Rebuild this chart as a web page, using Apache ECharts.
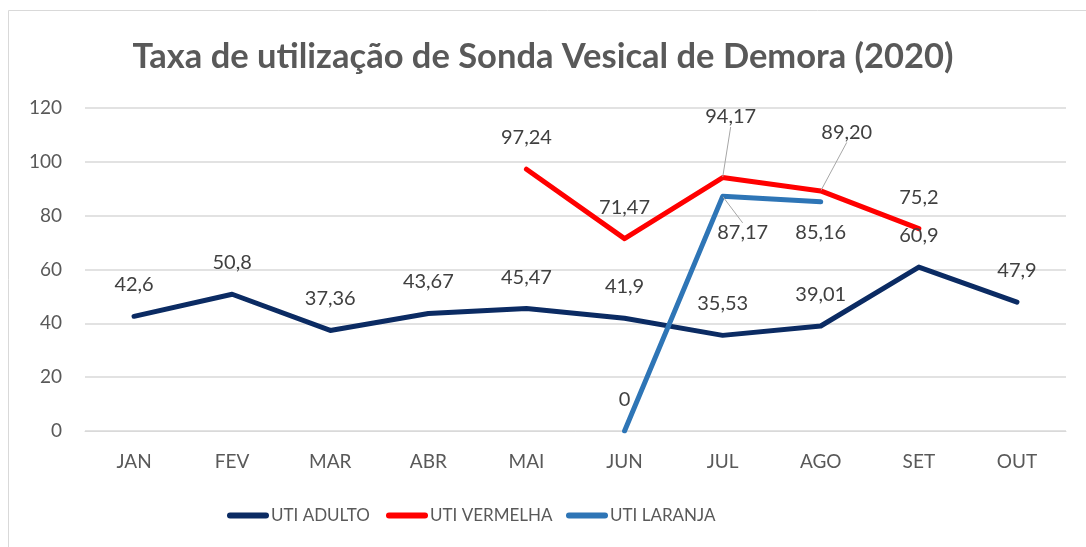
<!DOCTYPE html>
<html>
<head>
<meta charset="utf-8">
<script src="https://cdn.jsdelivr.net/npm/echarts@6/dist/echarts.min.js"></script>
<style>
  html, body { margin: 0; padding: 0; background: #fff; }
  #chart { width: 1086px; height: 547px; }
</style>
</head>
<body>
<div id="chart"></div>
<script>
const months = ['JAN', 'FEV', 'MAR', 'ABR', 'MAI', 'JUN', 'JUL', 'AGO', 'SET', 'OUT'];
const yTicks = [0, 20, 40, 60, 80, 100, 120];
const seriesNames = ['UTI ADULTO', 'UTI VERMELHA', 'UTI LARANJA'];

const utiAdulto = [42.6, 50.8, 37.36, 43.67, 45.47, 41.9, 35.53, 39.01, 60.9, 47.9];
const utiAdultoLabels = ['42,6', '50,8', '37,36', '43,67', '45,47', '41,9', '35,53', '39,01', '60,9', '47,9'];

const utiVermelha = [null, null, null, null, 97.24, 71.47, 94.17, 89.2, 75.2, null];
const utiVermelhaLabels = ['', '', '', '', '97,24', '71,47', '94,17', '89,20', '75,2', ''];

const utiLaranja = [null, null, null, null, null, 0, 87.17, 85.16, null, null];
const utiLaranjaLabels = ['', '', '', '', '', '0', '87,17', '85,16', '', ''];

// label nudges: series index -> data index -> [dx, dy, leader line?]
const labelMoves = {
  1: { 6: [8, -29, true], 7: [26, -27, true] },
  2: { 6: [20, 68, true], 7: [0, 62, false] }
};

const FONT = 'Lato';

function buildData(values, idx) {
  const moves = labelMoves[idx] || {};
  return values.map((v, i) => {
    if (v === null) return '-';
    const item = { value: v };
    if (moves[i] && moves[i][2]) item.labelLine = { show: true };
    return item;
  });
}

function makeSeries(name, values, labels, color, idx) {
  return {
    name: name,
    type: 'line',
    data: buildData(values, idx),
    connectNulls: false,
    symbol: 'circle',
    symbolSize: 1,
    itemStyle: { color: color },
    lineStyle: { color: color, width: 5, cap: 'round', join: 'round' },
    label: {
      show: true,
      position: 'top',
      distance: 21,
      color: '#404040',
      fontFamily: FONT,
      fontSize: 20,
      formatter: (p) => labels[p.dataIndex]
    },
    labelLine: {
      show: false,
      lineStyle: { color: '#a6a6a6', width: 1 }
    },
    labelLayout: (p) => {
      const m = (labelMoves[idx] || {})[p.dataIndex];
      return m ? { dx: m[0], dy: m[1] } : {};
    },
    emphasis: { disabled: true }
  };
}

// one legend block per series so each can sit where the original puts it
const legendLefts = [227, 386, 566];
const legends = seriesNames.map((n, i) => ({
  left: legendLefts[i],
  top: 507,
  padding: 0,
  itemWidth: 42,
  itemHeight: 6,
  icon: 'path://M3,0H39A3,3,0,0,1,39,6H3A3,3,0,0,1,3,0Z',
  textStyle: { fontFamily: FONT, fontSize: 17, color: '#595959', padding: [0, 0, 0, -3] },
  data: [n]
}));

const chart = echarts.init(document.getElementById('chart'));

chart.setOption({
  animation: false,
  title: {
    text: 'Taxa de utilização de Sonda Vesical de Demora (2020)',
    left: 'center',
    top: 34,
    textStyle: { fontFamily: FONT, fontWeight: 'bold', fontSize: 34.5, color: '#595959' }
  },
  graphic: [{
    type: 'rect',
    shape: { x: 8.5, y: 10.5, width: 1200, height: 700 },
    style: { fill: 'none', stroke: '#d9d9d9', lineWidth: 1 },
    silent: true
  }],
  grid: { left: 85, right: 20, top: 108, bottom: 116 },
  legend: legends,
  xAxis: {
    type: 'category',
    data: months,
    boundaryGap: true,
    axisLine: { show: true, lineStyle: { color: '#d9d9d9', width: 1 } },
    axisTick: { show: false },
    axisLabel: { color: '#595959', fontFamily: FONT, fontSize: 19, margin: 21 }
  },
  yAxis: {
    type: 'value',
    min: yTicks[0],
    max: yTicks[yTicks.length - 1],
    interval: 20,
    axisLine: { show: false },
    axisTick: { show: false },
    splitLine: { lineStyle: { color: '#d9d9d9', width: 1.5 } },
    axisLabel: { color: '#595959', fontFamily: FONT, fontSize: 19, margin: 23 }
  },
  series: [
    makeSeries(seriesNames[0], utiAdulto, utiAdultoLabels, '#0b2b63', 0),
    makeSeries(seriesNames[1], utiVermelha, utiVermelhaLabels, '#ff0000', 1),
    makeSeries(seriesNames[2], utiLaranja, utiLaranjaLabels, '#2e75b6', 2)
  ]
});
</script>
</body>
</html>
